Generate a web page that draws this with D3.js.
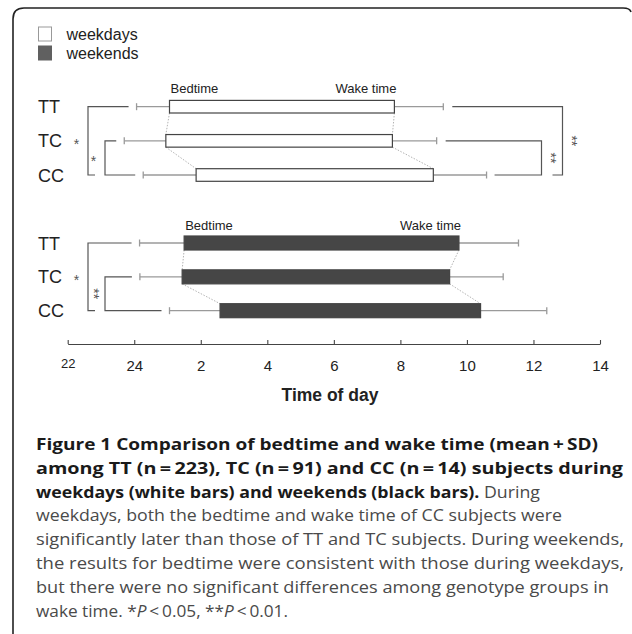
<!DOCTYPE html>
<html><head><meta charset="utf-8">
<script src="https://cdn.jsdelivr.net/npm/d3@7"></script>
<style>body{margin:0;background:#fff}svg{display:block}</style>
</head><body>
<script>
// ---------- data ----------
const groups = ["TT", "TC", "CC"];
const tickValues = [22, 24, 26, 28, 30, 32, 34, 36, 38];   // hours (24 = midnight)
const tickLabels = ["22", "24", "2", "4", "6", "8", "10", "12", "14"];

const weekdayBed    = [25.06, 24.95, 25.86];
const weekdayWake   = [31.82, 31.76, 32.99];
const weekdayBedSD  = [0.99, 1.25, 1.59];
const weekdayWakeSD = [1.47, 1.33, 1.60];

const weekendBed    = [25.50, 25.44, 26.58];
const weekendWake   = [33.76, 33.48, 34.41];
const weekendBedSD  = [1.34, 1.27, 1.52];
const weekendWakeSD = [1.79, 1.61, 1.99];

const weekdaySig = [
  {a: "TT", b: "CC", side: "left",  label: "*"},
  {a: "TC", b: "CC", side: "left",  label: "*"},
  {a: "TT", b: "CC", side: "right", label: "**"},
  {a: "TC", b: "CC", side: "right", label: "**"}
];
const weekendSig = [
  {a: "TT", b: "CC", side: "left", label: "*"},
  {a: "TC", b: "CC", side: "left", label: "**"}
];

const legendLabels = ["weekdays", "weekends"];
const axisTitle = "Time of day";

const captionLines = [
  [["b", "Figure 1 Comparison of bedtime and wake time (mean\u2009+\u2009SD)"]],
  [["b", "among TT (n\u2009=\u2009223), TC (n\u2009=\u200991) and CC (n\u2009=\u200914) subjects during"]],
  [["b", "weekdays (white bars) and weekends (black bars)."], ["n", " During"]],
  [["n", "weekdays, both the bedtime and wake time of CC subjects were"]],
  [["n", "significantly later than those of TT and TC subjects. During weekends,"]],
  [["n", "the results for bedtime were consistent with those during weekdays,"]],
  [["n", "but there were no significant differences among genotype groups in"]],
  [["n", "wake time. *"], ["i", "P"], ["n", "\u2009<\u20090.05, **"], ["i", "P"], ["n", "\u2009<\u20090.01."]]
];
const captionEnds = [598, 623, 540, 562, 624, 624, 609, 288];

// ---------- drawing ----------
const W = 632, H = 634;
const svg = d3.select("body").append("svg").attr("width", W).attr("height", H)
  .style("font-family", "'Liberation Sans', Arial, sans-serif");

// frame
svg.append("path")
  .attr("d", "M13,640 L13,19 Q13,8 24,8 L623,8 Q630,8 631,12")
  .attr("fill", "none").attr("stroke", "#222").attr("stroke-width", 1.6);

const x = d3.scaleLinear().domain([22, 38]).range([67.7, 600]);

// legend
const leg = svg.append("g");
legendLabels.forEach((lab, i) => {
  const yy = 27 + i * 19;
  leg.append("rect").attr("x", 38.5).attr("y", yy).attr("width", 13).attr("height", 14)
    .attr("fill", i === 0 ? "#fff" : "#606060")
    .attr("stroke", i === 0 ? "#999" : "#606060").attr("stroke-width", 1);
  leg.append("text").attr("x", 66.5).attr("y", yy + 12.5).attr("font-size", 16)
    .attr("fill", "#222").text(lab);
});

const panels = [
  {bed: weekdayBed, wake: weekdayWake, bedSD: weekdayBedSD, wakeSD: weekdayWakeSD,
   sig: weekdaySig, yr: [106.7, 175], barH: 12.6, fill: "#fff", lab: 93},
  {bed: weekendBed, wake: weekendWake, bedSD: weekendBedSD, wakeSD: weekendWakeSD,
   sig: weekendSig, yr: [243, 310.7], barH: 14, fill: "#464646", lab: 229.5}
];

panels.forEach(p => {
  const y = d3.scalePoint().domain(groups).range(p.yr);
  const g = svg.append("g");
  const rows = groups.map((k, i) => ({k, i, bed: p.bed[i], wake: p.wake[i],
    lo: p.bed[i] - p.bedSD[i], hi: p.wake[i] + p.wakeSD[i]}));

  // group labels
  g.selectAll(".glab").data(rows).join("text")
    .attr("x", 38).attr("y", d => y(d.k) + 6.5).attr("font-size", 18).attr("fill", "#222")
    .text(d => d.k);

  // Bedtime / Wake time labels
  g.append("text").attr("x", x(p.bed[0]) + 1).attr("y", p.lab).attr("font-size", 13)
    .attr("fill", "#222").text("Bedtime");
  g.append("text").attr("x", x(p.wake[0]) + 2).attr("y", p.lab).attr("font-size", 13)
    .attr("text-anchor", "end").attr("fill", "#222").text("Wake time");

  // whiskers
  const wk = g.append("g").attr("stroke", "#9a9a9a").attr("stroke-width", 1.3);
  rows.forEach(d => {
    wk.append("line").attr("x1", x(d.lo)).attr("x2", x(d.bed)).attr("y1", y(d.k)).attr("y2", y(d.k));
    wk.append("line").attr("x1", x(d.lo)).attr("x2", x(d.lo)).attr("y1", y(d.k) - 3.5).attr("y2", y(d.k) + 3.5);
    wk.append("line").attr("x1", x(d.wake)).attr("x2", x(d.hi)).attr("y1", y(d.k)).attr("y2", y(d.k));
    wk.append("line").attr("x1", x(d.hi)).attr("x2", x(d.hi)).attr("y1", y(d.k) - 3.5).attr("y2", y(d.k) + 3.5);
  });

  // dotted connectors
  const cn = g.append("g").attr("stroke", "#aaa").attr("stroke-width", 0.9).attr("stroke-dasharray", "1.5,1.5");
  for (let i = 0; i < rows.length - 1; i++) {
    const a = rows[i], b = rows[i + 1];
    ["bed", "wake"].forEach(f => {
      cn.append("line").attr("x1", x(a[f])).attr("y1", y(a.k) + p.barH / 2)
        .attr("x2", x(b[f])).attr("y2", y(b.k) - p.barH / 2);
    });
  }

  // bars
  g.selectAll(".bar").data(rows).join("rect")
    .attr("x", d => x(d.bed)).attr("width", d => x(d.wake) - x(d.bed))
    .attr("y", d => y(d.k) - p.barH / 2).attr("height", p.barH)
    .attr("fill", p.fill).attr("stroke", "#444").attr("stroke-width", 1.2);

  // significance brackets
  const br = g.append("g").attr("stroke", "#555").attr("stroke-width", 1.2).attr("fill", "none");
  const rowOf = k => rows[groups.indexOf(k)];
  const sideCount = {left: 0, right: 0};
  p.sig.forEach(s => {
    const idx = sideCount[s.side]++;
    const ra = rowOf(s.a), rb = rowOf(s.b);
    const ya = y(s.a), yb = y(s.b);
    const inner = p.sig.some(o => o !== s && o.side === s.side && o.b === s.b && p.sig.indexOf(o) > p.sig.indexOf(s));
    let bx, topEnd, botEnd, tx;
    if (s.side === "left") {
      bx = 88 + idx * 17;
      topEnd = x(ra.lo) - 8;
      botEnd = inner ? bx + 7 : x(rb.lo) - 8;
      tx = bx - (s.label.length > 1 ? 7.5 : 11.5);
    } else {
      bx = 562.5 - idx * 21;
      topEnd = x(ra.hi) + 9;
      botEnd = inner ? bx - 10 : x(rb.hi) + 8;
      tx = bx + 13;
    }
    br.append("path").attr("d", `M${topEnd},${ya} H${bx} V${yb} H${botEnd}`);
    const cy = (ya + yb) / 2;
    const t = g.append("g").attr("transform", `translate(${tx},${cy})` + (s.label.length > 1 ? " rotate(90)" : ""))
      .style("opacity", 0.999);
    t.append("text").attr("text-anchor", "middle").attr("y", 0.58 * 14).attr("font-size", 14)
      .attr("fill", "#555").text(s.label);
  });
});

// axis
const axis = d3.axisBottom(x).tickValues(tickValues)
  .tickFormat((d, i) => tickLabels[i]).tickSizeInner(-4).tickSizeOuter(0).tickPadding(16.5);
const ag = svg.append("g").attr("transform", "translate(0,344)").call(axis);
ag.select(".domain").attr("stroke", "#444").attr("stroke-width", 1.1);
ag.selectAll(".tick line").attr("stroke", "#444").attr("stroke-width", 1.1);
ag.selectAll(".tick text").attr("font-size", 15).attr("fill", "#222")
  .style("font-family", "'Liberation Sans', Arial, sans-serif");
ag.selectAll(".tick text").filter((d, i) => i === 0).attr("font-size", 13).attr("dy", "0.55em");

svg.append("text").attr("x", 330).attr("y", 401).attr("text-anchor", "middle")
  .attr("font-size", 17.5).attr("font-weight", "bold").attr("fill", "#222").text(axisTitle);

// caption
const cap = svg.append("g").style("font-family", "'Open Sans', 'Noto Sans', sans-serif");
captionLines.forEach((line, i) => {
  const t = cap.append("text").attr("x", 36).attr("y", 450 + i * 23.8).attr("font-size", 16.5)
    .attr("textLength", captionEnds[i] - 36).attr("lengthAdjust", "spacingAndGlyphs");
  line.forEach(([st, s]) => {
    const ts = t.append("tspan").text(s);
    if (st === "b") ts.attr("font-weight", "bold").attr("fill", "#1a1a1a");
    else ts.attr("fill", "#4a4a4a");
    if (st === "i") ts.attr("font-style", "italic");
  });
});
</script>
</body></html>
